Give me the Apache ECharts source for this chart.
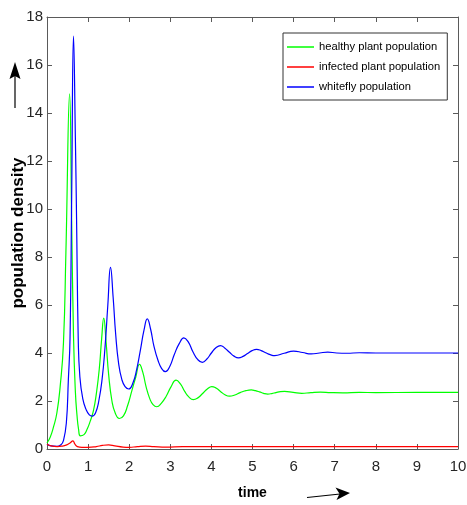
<!DOCTYPE html>
<html>
<head>
<meta charset="utf-8">
<script src="https://cdn.jsdelivr.net/npm/echarts@6/dist/echarts.min.js"></script>
<style>
html,body{margin:0;padding:0;background:#fff;}
#chart{width:467px;height:505px;}
</style>
</head>
<body>
<div id="chart"></div>
<script>
// ---- data ----
var seriesNames = ['healthy plant population', 'infected plant population', 'whitefly population'];
var xTicks = [0,1,2,3,4,5,6,7,8,9,10];
var yTicks = [0,2,4,6,8,10,12,14,16,18];

var healthyT = [0,0.08,0.16,0.24,0.32,0.40,0.46,0.55,0.60,0.645,0.69,0.73,0.77,0.81,0.9,0.97,1.05,1.13,1.2,1.27,1.33,1.38,1.44,1.5,1.58,1.66,1.76,1.86,1.96,2.06,2.16,2.25,2.33,2.41,2.5,2.58,2.67,2.78,2.9,3.02,3.14,3.25,3.35,3.45,3.56,3.67,3.78,3.9,4.01,4.12,4.22,4.33,4.44,4.57,4.7,4.84,4.97,5.07,5.17,5.27,5.37,5.47,5.57,5.68,5.78,5.99,6.2,6.42,6.65,6.9,7.2,7.6,8,9,10];
var healthyV = [0.25,0.5,0.93,1.5,2.6,4.4,8.2,14.8,9.5,4.7,2.4,1.4,0.8,0.55,0.6,0.8,1.15,1.6,2.3,3.3,4.6,5.45,4.4,3.1,2.0,1.5,1.27,1.38,1.8,2.4,3.0,3.53,3.2,2.6,2.1,1.85,1.76,1.9,2.2,2.6,2.87,2.7,2.4,2.17,2.06,2.13,2.3,2.5,2.6,2.53,2.4,2.26,2.2,2.25,2.35,2.43,2.46,2.43,2.38,2.32,2.29,2.31,2.35,2.39,2.40,2.36,2.32,2.35,2.37,2.35,2.34,2.36,2.35,2.36,2.36];

var infectedT = [0,0.1,0.25,0.4,0.48,0.56,0.63,0.68,0.74,0.85,1.0,1.2,1.35,1.5,1.65,1.85,2.0,2.2,2.4,2.6,2.9,3.3,4,10];
var infectedV = [0.2,0.13,0.1,0.13,0.17,0.25,0.34,0.2,0.1,0.07,0.07,0.1,0.15,0.17,0.13,0.08,0.07,0.1,0.12,0.1,0.08,0.1,0.1,0.1];

var whiteflyT = [0,0.1,0.24,0.34,0.4,0.47,0.52,0.56,0.6,0.645,0.69,0.72,0.76,0.8,0.87,0.95,1.03,1.1,1.18,1.26,1.34,1.41,1.48,1.545,1.61,1.67,1.74,1.82,1.9,1.99,2.09,2.18,2.27,2.36,2.44,2.52,2.6,2.7,2.79,2.88,2.99,3.1,3.22,3.33,3.44,3.55,3.67,3.78,3.89,4.0,4.11,4.22,4.33,4.44,4.55,4.66,4.77,4.88,4.99,5.1,5.21,5.32,5.43,5.54,5.77,6.0,6.22,6.43,6.63,6.83,7.05,7.3,7.6,8,9,10];
var whiteflyV = [0.2,0.13,0.11,0.18,0.35,1.07,2.9,4.6,10.5,17.2,13,9.5,4.6,3.0,2.1,1.65,1.42,1.37,1.5,2.0,2.9,4.2,6.0,7.57,6.3,4.8,3.6,2.9,2.6,2.5,2.75,3.3,4.1,4.95,5.42,5.0,4.3,3.7,3.35,3.22,3.45,3.95,4.4,4.63,4.45,4.05,3.72,3.61,3.75,4.0,4.22,4.31,4.2,4.03,3.87,3.8,3.86,3.98,4.1,4.15,4.1,4.01,3.93,3.89,3.99,4.08,4.02,3.96,4.0,4.04,4.0,3.99,4.01,4.0,4.0,4.0];

function zip(t, v){ return t.map(function(x,i){ return [x, v[i]]; }); }

var FONT = '"Liberation Sans", Arial, sans-serif';
var axisColor = '#5a5a5a';
var labelColor = '#262626';

var chart = echarts.init(document.getElementById('chart'), null, {renderer:'canvas'});

function xAx(pos, showLabel){
  return {
    type:'value', min:0, max:10, interval:1, position:pos,
    name: pos==='bottom' ? 'time' : '',
    nameLocation:'middle', nameGap:37, nameMoveOverlap:false,
    nameTextStyle:{fontFamily:FONT, fontWeight:'bold', fontSize:14, color:'#000'},
    axisLine:{show:true, onZero:false, lineStyle:{color:axisColor, width:1}},
    axisTick:{show:true, inside:true, length:5, lineStyle:{color:axisColor}},
    axisLabel:{show:showLabel, margin:10, fontFamily:FONT, fontSize:15, color:labelColor,
      formatter:function(v){ return xTicks.indexOf(v)>=0 ? String(v) : ''; }},
    splitLine:{show:false}
  };
}
function yAx(pos, showLabel){
  return {
    type:'value', min:0, max:18, interval:2, position:pos,
    name: pos==='left' ? 'population density' : '',
    nameLocation:'middle', nameGap:20, nameRotate:90, nameMoveOverlap:false,
    nameTextStyle:{fontFamily:FONT, fontWeight:'bold', fontSize:17, color:'#000'},
    axisLine:{show:true, onZero:false, lineStyle:{color:axisColor, width:1}},
    axisTick:{show:true, inside:true, length:5, lineStyle:{color:axisColor}},
    axisLabel:{show:showLabel, margin:4, fontFamily:FONT, fontSize:15, color:labelColor,
      formatter:function(v){ return yTicks.indexOf(v)>=0 ? String(v) : ''; }},
    splitLine:{show:false}
  };
}

var colors = ['#00ff00', '#ff0000', '#0000ff'];
var datasets = [zip(healthyT, healthyV), zip(infectedT, infectedV), zip(whiteflyT, whiteflyV)];

var option = {
  animation:false,
  backgroundColor:'#fff',
  grid:{left:47, right:9, top:17, bottom:56, containLabel:false, outerBoundsMode:'none'},
  xAxis:[xAx('bottom', true), xAx('top', false)],
  yAxis:[yAx('left', true), yAx('right', false)],
  legend:{
    left:283, top:33, orient:'vertical',
    data:seriesNames,
    icon:'rect',
    backgroundColor:'#fff', borderColor:'#333', borderWidth:1,
    padding:[7,7,6,4],
    itemWidth:27, itemHeight:1.5, itemGap:6,
    textStyle:{fontFamily:FONT, fontSize:11.2, color:'#000', lineHeight:14},
    selectedMode:false
  },
  series: seriesNames.map(function(n, i){
    return {
      name:n, type:'line', data:datasets[i],
      xAxisIndex:0, yAxisIndex:0,
      symbol:'none', smooth:0.5,
      lineStyle:{color:colors[i], width:1.2},
      itemStyle:{color:colors[i]},
      z: i===1 ? 3 : 2
    };
  }),
  graphic:[
    {type:'line', shape:{x1:15, y1:108, x2:15, y2:74}, style:{stroke:'#000', lineWidth:1.2}},
    {type:'polygon', shape:{points:[[15,62],[20.5,79],[15,76],[9.5,79]]}, style:{fill:'#000'}},
    {type:'line', shape:{x1:307, y1:497.5, x2:340, y2:494}, style:{stroke:'#000', lineWidth:1.2}},
    {type:'polygon', shape:{points:[[350,493],[336.5,500],[339.5,493.7],[335.5,487.5]]}, style:{fill:'#000'}}
  ]
};
chart.setOption(option);
</script>
</body>
</html>
